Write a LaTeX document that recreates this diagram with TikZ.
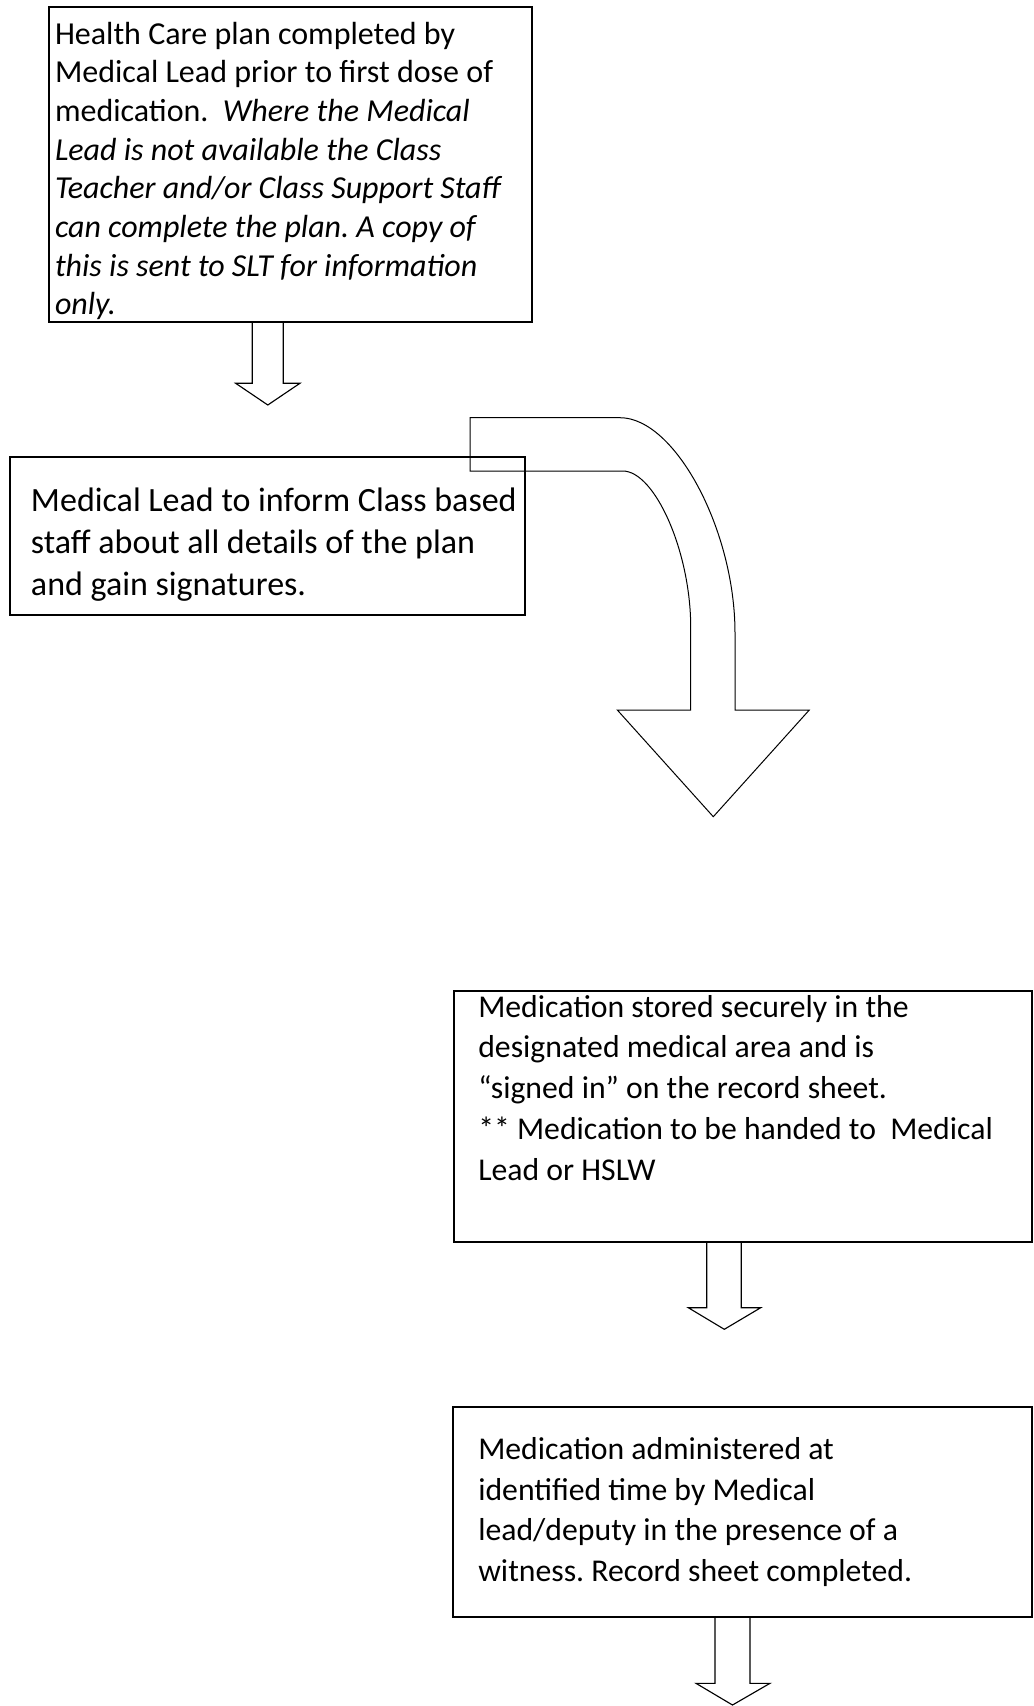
\documentclass[tikz,border=0pt]{standalone}
\usepackage{fontspec}
\setmainfont{Carlito}
\begin{document}
\begin{tikzpicture}[x=0.75pt,y=-0.75pt]
\tikzset{
  box/.style={draw, line width=1.7pt, anchor=north west, inner sep=0pt, outer sep=0pt},
  txt/.style={anchor=north west, inner sep=0pt, outer sep=0pt, align=left},
  blockarrow/.style={draw, line width=0.85pt, line join=miter},
  bentarrow/.style={draw, line width=0.75pt, line join=miter},
}
\fill[white] (0,0) rectangle (1034,1706);
\useasboundingbox (0,0) rectangle (1034,1706);
\frenchspacing
% Box 1
\node[box, minimum width=483.3*0.75pt, minimum height=315*0.75pt] (b1) at (49,6.7) {};
\node[txt, font=\fontsize{24pt}{29pt}\selectfont] (t1) at (55,17.2)
 {\strut Health Care plan completed by\\
  Medical Lead prior to first dose of\\
  medication.\ \ \textit{Where the Medical}\\
  \textit{Lead is not available the Class}\\
  \textit{Teacher and/or Class Support Staff}\\
  \textit{can complete the plan. A copy of}\\
  \textit{this is sent to SLT for information}\\
  \textit{only.}};
% Box 2
\node[box, minimum width=515*0.75pt, minimum height=158*0.75pt] (b2) at (10,456.7) {};
\node[txt, font=\fontsize{25.5pt}{31.3pt}\selectfont] (t2) at (31,482.5)
 {\strut Medical Lead to inform Class based\\
  staff about all details of the plan\\
  and gain signatures.};
% Box 3
\node[box, minimum width=577.7*0.75pt, minimum height=251*0.75pt] (b3) at (454,990.7) {};
\node[txt, font=\fontsize{23.8pt}{30.6pt}\selectfont] (t3) at (478.3,988.6)
 {\strut Medication stored securely in the\\
  designated medical area and is\\
  “signed in” on the record sheet.\\
  ** Medication to be handed to\ \ Medical\\
  Lead or HSLW};
% Box 4
\node[box, minimum width=578.4*0.75pt, minimum height=210*0.75pt] (b4) at (453.3,1406.7) {};
\node[txt, font=\fontsize{23.8pt}{30.6pt}\selectfont] (t4) at (478.3,1430.7)
 {\strut Medication administered at\\
  identified time by Medical\\
  lead/deputy in the presence of a\\
  witness. Record sheet completed.};
% Arrow 1 (box 1 -> box 2)
\draw[blockarrow] (252.3,321.7) -- (252.3,383.3) -- (235.7,383.3) -- (267.8,405)
  -- (299.9,383.3) -- (283.3,383.3) -- (283.3,321.7);
% Bent arrow (box 2 -> box 3)
\draw[bentarrow] (470,417.7) -- (620,417.7)
  .. controls (675,417.7) and (735,530) .. (735,633)
  -- (735,710) -- (809.3,710) -- (713.3,816.7) -- (617.3,710) -- (690.7,710)
  -- (690.7,627)
  .. controls (690.7,552) and (655,471) .. (622.7,471)
  -- (470,471) -- cycle;
% Arrow 2 (box 3 -> box 4)
\draw[blockarrow] (706.7,1241.7) -- (706.7,1307.7) -- (688.3,1307.7) -- (724.3,1329.3)
  -- (760.7,1307.7) -- (741.3,1307.7) -- (741.3,1241.7);
% Arrow 3 (from box 4)
\draw[blockarrow] (715,1616.7) -- (715,1683.3) -- (696,1683.3) -- (732.5,1705)
  -- (770,1683.3) -- (750,1683.3) -- (750,1616.7);
\end{tikzpicture}
\end{document}
